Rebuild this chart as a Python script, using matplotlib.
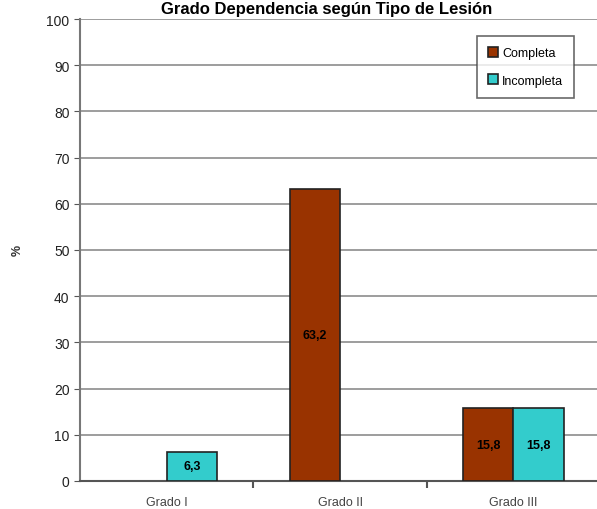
import numpy as np
import matplotlib.pyplot as plt

categorias = ["Grado I", "Grado II", "Grado III"]
completa = [0.0, 63.2, 15.8]
incompleta = [6.3, 0.0, 15.8]
series = ["Completa", "Incompleta"]
colores = ["#993300", "#33CCCC"]

plt.rcParams["font.family"] = ["Liberation Sans", "DejaVu Sans"]

fig = plt.figure(figsize=(5.97, 5.10), dpi=100)
ax = fig.add_axes([80 / 597, 28 / 510, 520 / 597, 462 / 510])

x = np.arange(len(categorias))
ancho = 0.29
for valores, nombre, color, desp in zip([completa, incompleta], series, colores, [-0.5, 0.5]):
    xs = [xi + desp * ancho for xi, v in zip(x, valores) if v > 0]
    vs = [v for v in valores if v > 0]
    barras = ax.bar(xs, vs, ancho, color=color, edgecolor="#222222", linewidth=1.2,
                    label=nombre, zorder=3)
    for b, v in zip(barras, vs):
        ax.text(b.get_x() + b.get_width() / 2, v / 2, f"{v:.1f}".replace(".", ","),
                ha="center", va="center", fontsize=9, fontweight="bold", zorder=4)

ax.set_xlim(-0.5, 2.5)
ax.set_ylim(0, 100)
ax.set_yticks(np.arange(0, 101, 10))
ax.yaxis.grid(True, color="#8c8c8c", linewidth=1.2, zorder=0)
ax.tick_params(axis="y", labelsize=10, length=4, color="#555555", labelcolor="#222222")

ax.set_xticks(x)
ax.set_xticklabels(categorias)
ax.set_xticks([0.5, 1.5], minor=True)
ax.tick_params(axis="x", which="major", length=0, pad=11, labelsize=9, labelcolor="#444444")
ax.tick_params(axis="x", which="minor", length=5, color="#555555", width=1.5)

for lado in ["top", "right"]:
    ax.spines[lado].set_visible(False)
ax.spines["left"].set_color("#777777")
ax.spines["left"].set_linewidth(1.5)
ax.spines["bottom"].set_color("#555555")
ax.spines["bottom"].set_linewidth(1.5)

fig.text(18 / 597, 1 - 250 / 510, "%", rotation=90, ha="center", va="center",
         fontsize=9, fontweight="bold", color="#333333")
fig.text(327 / 597, 1 - 14 / 510, "Grado Dependencia según Tipo de Lesión",
         ha="center", va="baseline", fontsize=12, fontweight="bold")

leg = ax.legend(loc="upper left", bbox_to_anchor=(397 / 520, 1 - 17 / 462),
                fontsize=9, frameon=True, fancybox=False, edgecolor="#444444",
                handlelength=0.8, handleheight=0.8, handletextpad=0.3,
                borderpad=0.9, labelspacing=1.2, borderaxespad=0)
leg.get_frame().set_linewidth(1.2)

fig.savefig("out.png", dpi=100)
